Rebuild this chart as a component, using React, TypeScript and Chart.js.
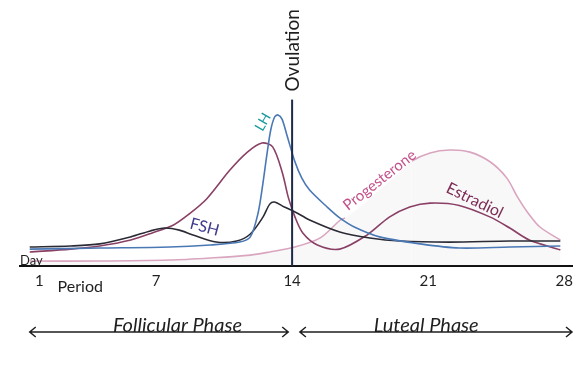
import React, { useEffect, useRef } from 'react';
import { Chart, registerables } from 'chart.js';

Chart.register(...registerables);

// ---- axis / ticks ----
const dayTicks = [1, 7, 14, 21, 28];
const ovulationDay = 14;
const ovulationTop = 64;

// ---- series (day, relative level) ----
const estradiolDays = [0.5, 2.6, 4.1, 5.7, 6.8, 7.9, 8.7, 9.6, 10.8, 11.7, 12.45, 13.0, 13.5, 13.8, 14.15, 14.55, 15.3, 16.45, 17.85, 19.0, 20.05, 21.1, 22.6, 24.2, 25.2, 26.2, 27.8];
const estradiolLevels = [5.4, 6.5, 7.7, 10.0, 12.7, 15.8, 20.0, 25.8, 36.9, 43.8, 47.3, 45.8, 35.8, 26.5, 18.8, 12.7, 8.1, 6.5, 11.9, 18.8, 22.7, 24.2, 23.3, 18.8, 14.6, 10.0, 6.2];

const lhDays = [0.5, 4.1, 7.7, 9.8, 11.3, 11.85, 12.25, 12.5, 12.7, 12.9, 13.1, 13.27, 13.48, 13.73, 14.15, 14.5, 14.9, 15.8, 16.45, 17.2, 18.5, 20.6, 22.6, 25.2, 27.8];
const lhLevels = [6.5, 6.9, 7.3, 8.1, 9.2, 11.2, 20.4, 31.9, 42.7, 52.3, 57.3, 58.1, 56.5, 50.4, 40.0, 33.8, 29.2, 22.7, 18.5, 15.0, 11.2, 8.5, 6.9, 7.3, 7.7];

const fshDays = [0.5, 2.6, 4.1, 5.7, 6.7, 7.45, 8.2, 8.9, 10.1, 11.15, 11.85, 12.5, 12.85, 13.1, 13.6, 14.15, 14.9, 16.45, 18.0, 19.55, 22.1, 25.2, 27.8];
const fshLevels = [7.3, 7.7, 8.5, 11.2, 13.5, 14.6, 13.8, 11.9, 9.2, 9.6, 12.3, 18.8, 23.8, 24.6, 22.7, 20.8, 17.7, 13.1, 10.8, 9.6, 9.2, 9.6, 9.6];

const progesteroneDays = [0.5, 4.1, 7.7, 9.8, 11.85, 12.85, 14.15, 15.45, 16.45, 16.72, 17.5, 18.5, 19.55, 20.16, 21.1, 22.1, 23.15, 24.2, 25.05, 25.6, 26.1, 26.75, 27.8];
const progesteroneLevels = [1.9, 1.9, 2.3, 3.1, 4.2, 5.4, 7.3, 10.8, 17.5, 18.5, 22.7, 29.2, 36.2, 40.4, 43.5, 44.6, 43.8, 40.0, 33.8, 26.5, 20.8, 15.0, 10.0];
const progesteroneLabelGap = [16.7, 20.2];

const phases = [
  { label: 'Follicular Phase', from: 0.5, to: 13.8, labelAt: 8.1 },
  { label: 'Luteal Phase', from: 14.4, to: 28.4, labelAt: 20.9 },
];

const seriesLabels = [
  { text: 'LH', day: 12.5, level: 55.4, angle: -60, color: '#1a9aa0', size: 14 },
  { text: 'FSH', day: 9.5, level: 15, angle: 15, color: '#3e3a8c', size: 16 },
  { text: 'Progesterone', day: 18.5, level: 33, angle: -38, color: '#c2508a', size: 15 },
  { text: 'Estradiol', day: 23.4, level: 25.2, angle: 26, color: '#7d2c55', size: 16 },
];

const toPoints = (xs: number[], ys: number[]) => xs.map((d, i) => ({ x: d, y: ys[i] }));

const COLORS = {
  estradiol: '#8a4065',
  lh: '#4a78b5',
  fsh: '#2b2b36',
  progesterone: '#d9a5bf',
  ovulation: '#1d2a48',
  ink: '#1f1f1f',
};

const annotationPlugin = {
  id: 'handAnnotations',
  afterDatasetsDraw(chart: any) {
    const { ctx, chartArea, scales } = chart;
    const x = scales.x;
    const y = scales.y;
    ctx.save();

    // Ovulation label
    const ox = x.getPixelForValue(ovulationDay);
    const oy = y.getPixelForValue(ovulationTop);
    ctx.save();
    ctx.translate(ox + 1, oy - 8);
    ctx.rotate(-Math.PI / 2);
    ctx.font = '19px Lato';
    ctx.fillStyle = COLORS.ink;
    ctx.textAlign = 'left';
    ctx.textBaseline = 'middle';
    ctx.fillText('Ovulation', 0, 0);
    ctx.restore();

    // series labels
    seriesLabels.forEach((l) => {
      ctx.save();
      ctx.translate(x.getPixelForValue(l.day), y.getPixelForValue(l.level));
      ctx.rotate((l.angle * Math.PI) / 180);
      ctx.font = `${l.size}px Lato`;
      ctx.fillStyle = l.color;
      ctx.textAlign = 'center';
      ctx.textBaseline = 'middle';
      ctx.fillText(l.text, 0, 0);
      ctx.restore();
    });

    // "Day"
    ctx.font = '13px Lato';
    ctx.fillStyle = COLORS.ink;
    ctx.textAlign = 'left';
    ctx.textBaseline = 'alphabetic';
    ctx.fillText('Day', chartArea.left, chartArea.bottom - 1);

    // "Period"
    ctx.font = '16px Lato';
    ctx.textAlign = 'center';
    ctx.fillText('Period', x.getPixelForValue(3.1), chartArea.bottom + 26);

    // phase arrows
    const ay = chartArea.bottom + 66;
    ctx.strokeStyle = COLORS.ink;
    ctx.lineWidth = 1.5;
    phases.forEach((p) => {
      const x1 = x.getPixelForValue(p.from);
      const x2 = x.getPixelForValue(p.to);
      ctx.beginPath();
      ctx.moveTo(x1, ay);
      ctx.lineTo(x2, ay);
      ctx.moveTo(x1 + 6, ay - 5);
      ctx.lineTo(x1, ay);
      ctx.lineTo(x1 + 6, ay + 5);
      ctx.moveTo(x2 - 6, ay - 5);
      ctx.lineTo(x2, ay);
      ctx.lineTo(x2 - 6, ay + 5);
      ctx.stroke();
      ctx.font = 'italic 20px Lato';
      ctx.textAlign = 'center';
      ctx.textBaseline = 'alphabetic';
      ctx.fillText(p.label, x.getPixelForValue(p.labelAt), ay);
    });

    ctx.restore();
  },
};

export default function App() {
  const canvasRef = useRef<HTMLCanvasElement | null>(null);

  useEffect(() => {
    if (!canvasRef.current) return;
    const line = (label: string, data: any[], color: string, extra: any = {}) => ({
      label,
      data,
      borderColor: color,
      backgroundColor: color,
      borderWidth: 1.6,
      pointRadius: 0,
      fill: false,
      tension: 0.3,
      ...extra,
    });

    const chart = new Chart(canvasRef.current, {
      type: 'line',
      data: {
        datasets: [
          line('Ovulation', [{ x: ovulationDay, y: 0 }, { x: ovulationDay, y: ovulationTop }], COLORS.ovulation, {
            borderWidth: 2,
            tension: 0,
          }),
          line('LH', toPoints(lhDays, lhLevels), COLORS.lh),
          line('FSH', toPoints(fshDays, fshLevels), COLORS.fsh),
          line('Estradiol', toPoints(estradiolDays, estradiolLevels), COLORS.estradiol),
          line('Progesterone', toPoints(progesteroneDays, progesteroneLevels), COLORS.progesterone, {
            fill: 'origin',
            backgroundColor: 'rgba(110,110,130,0.05)',
            segment: {
              borderColor: (c: any) =>
                c.p0.parsed.x >= progesteroneLabelGap[0] && c.p1.parsed.x <= progesteroneLabelGap[1]
                  ? 'rgba(0,0,0,0)'
                  : COLORS.progesterone,
            },
          }),
        ],
      },
      options: {
        responsive: false,
        animation: false,
        layout: { padding: { left: 20, right: 13, top: 6, bottom: 76 } },
        plugins: { legend: { display: false }, tooltip: { enabled: false } },
        scales: {
          x: {
            type: 'linear',
            min: 0,
            max: 28.4,
            grid: { display: false, drawTicks: false },
            border: { display: true, color: '#111', width: 2 },
            afterBuildTicks: (axis: any) => {
              axis.ticks = dayTicks.map((v) => ({ value: v }));
            },
            ticks: {
              padding: 6,
              color: COLORS.ink,
              font: { family: 'Lato', size: 15 },
              maxRotation: 0,
              autoSkip: false,
              callback: (v: any) => String(v),
            },
          },
          y: {
            type: 'linear',
            min: 0,
            max: 100,
            display: false,
          },
        },
      },
      plugins: [annotationPlugin],
    });
    return () => chart.destroy();
  }, []);

  return (
    <div style={{ position: 'fixed', left: 0, top: 0, width: 585, height: 372, background: '#fff' }}>
      <canvas ref={canvasRef} width={585} height={372} style={{ display: 'block' }} />
    </div>
  );
}
